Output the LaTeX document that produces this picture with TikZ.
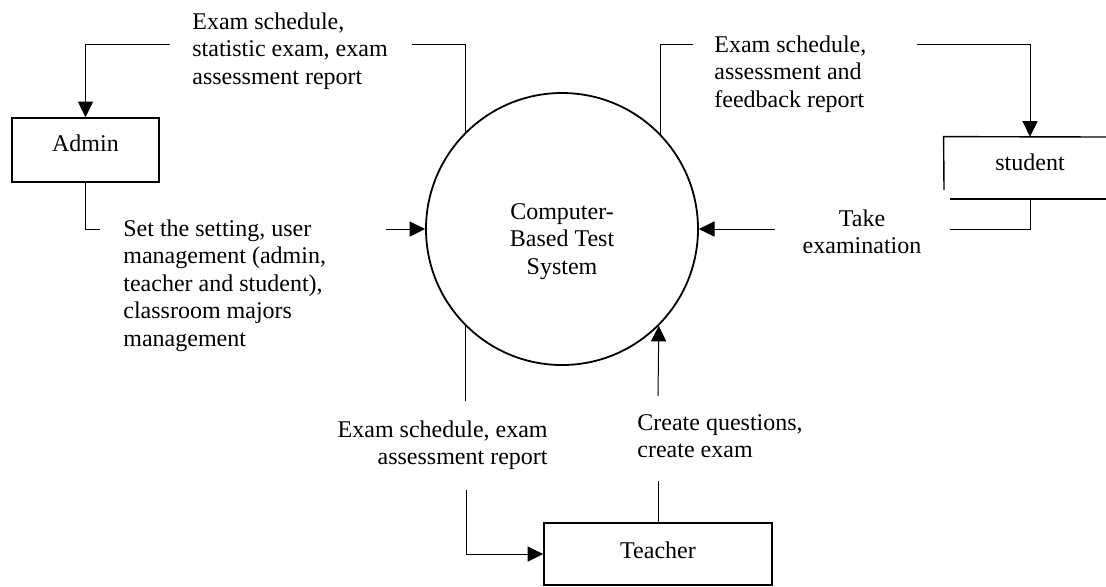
\documentclass[tikz,border=0pt]{standalone}
\usepackage{fontspec}
\setmainfont{Liberation Serif}
\usetikzlibrary{arrows.meta}
\begin{document}
\begin{tikzpicture}[x=0.5pt,y=-0.5pt,
  every node/.style={font=\fontsize{12pt}{13.8pt}\selectfont, inner sep=0pt},
  entity/.style={draw, line width=0.9pt, rectangle},
  process/.style={draw, line width=0.9pt, circle},
  flow/.style={line width=0.5pt},
  flowto/.style={line width=0.5pt, -{Triangle[length=7.8pt,width=7.6pt]}},
  lbl/.style={align=left, anchor=north west},
]
% page frame
\fill[white] (0,0) rectangle (1106,586);
\useasboundingbox (0,0) rectangle (1106,586);

% central process
\node[process, minimum size=136pt] (cbt) at (562,229) {};
\node[align=center, anchor=north] (cbtText) at (562,203) {Computer-\\Based Test\\System};

% external entities
\node[entity, minimum width=73.5pt, minimum height=32pt] (admin) at (85.5,150) {};
\node (adminText) at (85.5,143) {Admin};

\node[entity, minimum width=114pt, minimum height=31pt] (teacher) at (658,554) {};
\node (teacherText) at (658,550) {Teacher};

% student box: only its top, left side and bottom bar are drawn
\node[minimum width=86pt, minimum height=31pt] (student) at (1030,168) {};
\node (studentText) at (1030,162) {student};
\draw[line width=0.7pt] (944,190) -- (student.north west) -- (1106,137);
\draw[line width=1.2pt] (950,199) -- (1106,199);

% gap ends of the labelled flows
\coordinate (a1) at (412,44);
\coordinate (a2) at (170,44);
\coordinate (b1) at (100,229);
\coordinate (b2) at (386,229);
\coordinate (s1) at (693,44);
\coordinate (s2) at (917,44);
\coordinate (s3) at (950,229);
\coordinate (s4) at (775,229);
\coordinate (t1) at (466,401);
\coordinate (t2) at (466,490);
\coordinate (t3) at (658,481);
\coordinate (t4) at (658,396);

% system -> admin
\draw[flow] (cbt.135) |- (a1);
\draw[flowto] (a2) -| (admin.north);
\node[lbl] (lAdminOut) at (192,12) {Exam schedule,\\statistic exam, exam\\assessment report};

% admin -> system
\draw[flow] (admin.south) |- (b1);
\draw[flowto] (b2) -- (cbt.west);
\node[lbl] (lAdminIn) at (123,219) {Set the setting, user\\management (admin,\\teacher and student),\\classroom majors\\management};

% system -> student
\draw[flow] (cbt.44.5) |- (s1);
\draw[flowto] (s2) -| (student.north);
\node[lbl] (lStudentOut) at (714,35) {Exam schedule,\\assessment and\\feedback report};

% student -> system
\draw[flow] (student.south) |- (s3);
\draw[flowto] (s4) -- (cbt.east);
\node[align=center, anchor=north] (lStudentIn) at (862,209) {Take\\examination};

% system -> teacher
\draw[flow] (cbt.225) -- (cbt.225 |- t1);
\draw[flowto] (t2) |- (teacher.west);
\node[align=right, anchor=north east] (lTeacherOut) at (548,420) {Exam schedule, exam\\assessment report};

% teacher -> system
\draw[flow] (teacher.north) -- (t3);
\draw[flowto] (t4) -- (cbt.-45);
\node[lbl] (lTeacherIn) at (637,414) {Create questions,\\create exam};
\end{tikzpicture}
\end{document}
